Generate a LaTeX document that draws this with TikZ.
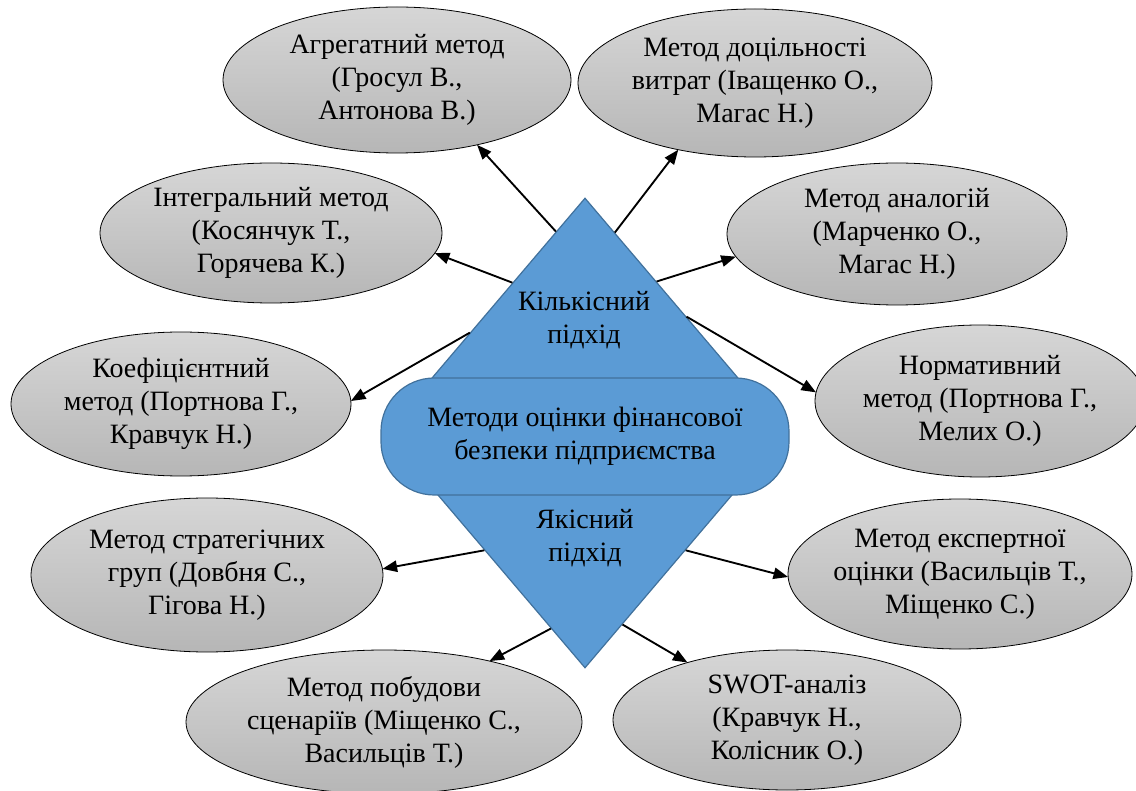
\documentclass[tikz,border=0pt]{standalone}
\usepackage{fontspec}
\setmainfont{Liberation Serif}
\usetikzlibrary{shapes.geometric,arrows.meta,calc}
\definecolor{dblue}{HTML}{5B9BD5}
\definecolor{dborder}{HTML}{41719C}
\definecolor{gtop}{RGB}{214,214,214}
\definecolor{gbot}{RGB}{182,182,182}
\tikzset{
  txt/.style={align=center, font=\fontsize{21}{24.75}\selectfont},
  meth/.style 2 args={ellipse, draw=black, line width=0.6pt, top color=gtop, bottom color=gbot,
    inner xsep=-40pt, inner ysep=-10pt, outer sep=0pt, txt,
    minimum width={1.5*#1pt}, minimum height={1.5*#2pt}},
  conn/.style={-{Triangle[length=11pt,width=8.5pt]}, line width=1.4pt, black},
  blueshape/.style={draw=dborder, fill=dblue, line width=0.9pt, inner sep=0pt},
}
\begin{document}
\begin{tikzpicture}[x=0.75pt,y=-0.75pt]
\useasboundingbox (0,0) rectangle (1136,791);
% ellipses
\node[meth={174}{73}] (e1) at (397,80) {Агрегатний метод\\(Гросул В.,\\Антонова В.)};
\node[meth={177}{74}] (e2) at (755,83) {Метод доцільності\\витрат (Іващенко О.,\\Магас Н.)};
\node[meth={171}{70}] (e3) at (271,233) {Інтегральний метод\\(Косянчук Т.,\\Горячева К.)};
\node[meth={170}{71}] (e4) at (897,234) {Метод аналогій\\(Марченко О.,\\Магас Н.)};
\node[meth={170}{72}] (e5) at (181,404) {Коефіцієнтний\\метод (Портнова Г.,\\Кравчук Н.)};
\node[meth={165}{76}] (e6) at (980,401) {Нормативний\\метод (Портнова Г.,\\Мелих О.)};
\node[meth={176}{77}] (e7) at (207,575) {Метод стратегічних\\груп (Довбня С.,\\Гігова Н.)};
\node[meth={172}{75}] (e8) at (960,574) {Метод експертної\\оцінки (Васильців Т.,\\Міщенко С.)};
\node[meth={198}{72}] (e9) at (384,722) {Метод побудови\\сценаріїв (Міщенко С.,\\Васильців Т.)};
\node[meth={174}{70}] (e10) at (787,720) {SWOT-аналіз\\(Кравчук Н.,\\Колісник О.)};
% central shapes
\node[diamond, blueshape, minimum width=300pt, minimum height=352.5pt] (d) at (585,433) {};
\node[blueshape, rounded corners=40pt, minimum width=306pt, minimum height=87.75pt, txt] (m) at (585,436.5)
  {Методи оцінки фінансової\\безпеки підприємства};
\node[txt] (q1) at (584,320) {Кількісний\\підхід};
\node[txt] (q2) at (585,538) {Якісний\\підхід};
% start points on the diamond border
\coordinate (s1) at ($(d.north)!0.145!(d.west)$);
\coordinate (s2) at ($(d.north)!0.149!(d.east)$);
\coordinate (s3) at ($(d.north)!0.362!(d.west)$);
\coordinate (s4) at ($(d.north)!0.357!(d.east)$);
\coordinate (s5) at ($(d.north)!0.574!(d.west)$);
\coordinate (s6) at ($(d.north)!0.506!(d.east)$);
\coordinate (s7) at ($(d.south)!0.502!(d.west)$);
\coordinate (s8) at ($(d.south)!0.502!(d.east)$);
\coordinate (s9) at ($(d.south)!0.17!(d.west)$);
\coordinate (s10) at ($(d.south)!0.187!(d.east)$);
% connectors
\draw[conn] (s1) -- (e1.-39.9);
\draw[conn] (s2) -- (e2.-139.5);
\draw[conn] (s3) -- (e3.-7.5);
\draw[conn] (s4) -- (e4.188.1);
\draw[conn] (s5) -- (e5.1.3);
\draw[conn] (s6) -- (e6.177.9);
\draw[conn] (s7) -- (e7.2.0);
\draw[conn] (s8) -- (e8.181.3);
\draw[conn] (s9) -- (e9.30.3);
\draw[conn] (s10) -- (e10.150.4);
\end{tikzpicture}
\end{document}
